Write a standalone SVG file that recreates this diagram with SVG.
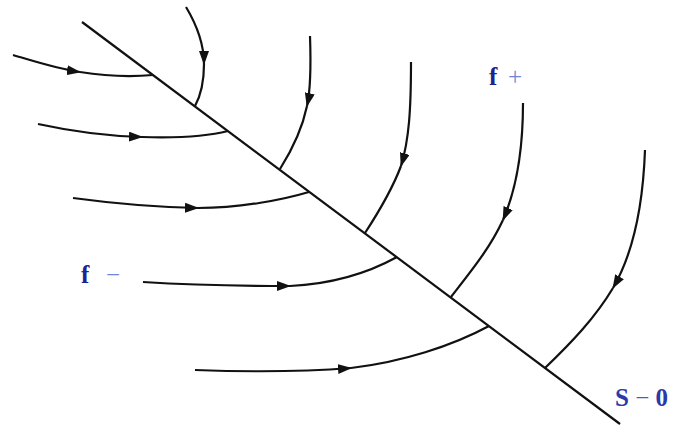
<svg xmlns="http://www.w3.org/2000/svg" width="693" height="427" viewBox="0 0 693 427">
<style>
.ln{fill:none;stroke:#111;stroke-width:2.2;stroke-linecap:butt}
.ar{marker-end:url(#ah)}
.lbl{font-family:"Liberation Serif","Times New Roman",serif;font-size:25px;font-weight:bold}
.dk{fill:#1c2290}
.lt{fill:#6f86d6;font-weight:normal}
</style>
<defs>
<marker id="ah" viewBox="0 0 14 10" refX="13" refY="5" markerWidth="14" markerHeight="10" markerUnits="userSpaceOnUse" orient="auto">
<path d="M0,0 L14,5 L0,10 Z" fill="#111"/>
</marker>
</defs>
<rect width="693" height="427" fill="#fff"/>
<g id="connectors">
<path id="s0-line" class="ln" d="M82,22 L620,424"/>
<g id="h1"><path class="ln ar" d="M13,55 C40,63 58,69 80,72"/><path class="ln" d="M80,72 C105,76 130,77 153,75"/></g>
<g id="h2"><path class="ln ar" d="M38,124 C70,131 105,136 142,137"/><path class="ln" d="M142,137 C175,138 205,137 228,131"/></g>
<g id="h3"><path class="ln ar" d="M73,198 C110,203 150,207 198,208"/><path class="ln" d="M198,208 C240,208 282,200 309,192"/></g>
<g id="h4"><path class="ln ar" d="M143,282 C190,285 240,286 290,286"/><path class="ln" d="M290,286 C332,284 368,273 397,257"/></g>
<g id="h5"><path class="ln ar" d="M195,370 C250,372 300,372 351,368"/><path class="ln" d="M351,368 C402,362 452,346 489,326"/></g>
<g id="v1"><path class="ln ar" d="M186,7 C198,27 204,45 204,64"/><path class="ln" d="M204,64 C204,80 201,95 195,106"/></g>
<g id="v2"><path class="ln ar" d="M310,36 C311,65 311,88 307,106"/><path class="ln" d="M307,106 C302,130 292,150 280,169"/></g>
<g id="v3"><path class="ln ar" d="M411,62 C411,110 409,140 401,166"/><path class="ln" d="M401,166 C392,190 380,210 365,233"/></g>
<g id="v4"><path class="ln ar" d="M523,103 C523,155 516,190 503,220"/><path class="ln" d="M503,220 C490,248 472,270 451,297"/></g>
<g id="v5"><path class="ln ar" d="M645,150 C643,205 634,252 613,288"/><path class="ln" d="M613,288 C595,318 572,342 545,368"/></g>
</g>
<g id="label-fplus"><text class="lbl dk" x="489" y="85">f</text><text class="lbl lt" x="508" y="85">+</text></g>
<g id="label-fminus"><text class="lbl dk" x="81" y="283">f</text><text class="lbl lt" x="106" y="283">−</text></g>
<g id="label-s0"><text class="lbl" x="615" y="406" fill="#2a3aa8">S <tspan fill="#4a5ec0" font-weight="normal">−</tspan> 0</text></g>
</svg>
